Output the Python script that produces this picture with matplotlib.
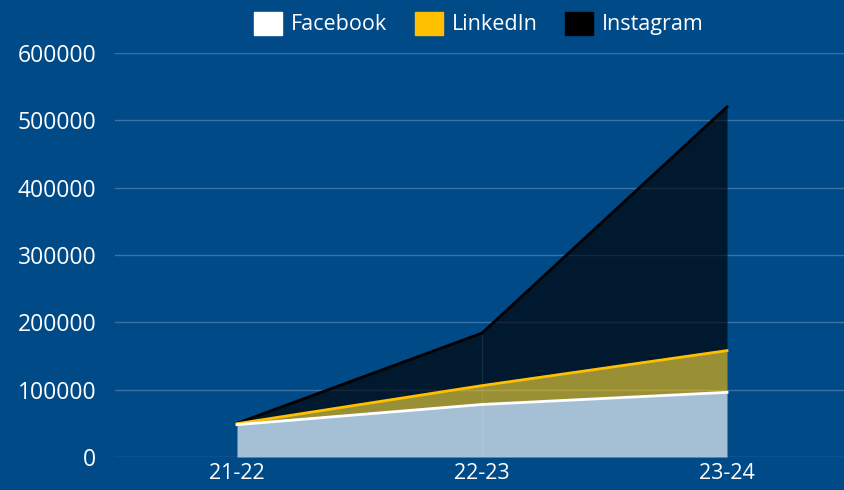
import numpy as np
import matplotlib.pyplot as plt
from matplotlib.patches import Patch

plt.rcParams['font.family'] = ['Open Sans', 'DejaVu Sans']

# datos
periodos = ['21-22', '22-23', '23-24']
facebook = [48000, 78000, 96000]
linkedin = [1500, 28000, 62000]
instagram = [500, 78000, 362000]
y_ticks = [0, 100000, 200000, 300000, 400000, 500000, 600000]

fondo = '#014a88'
rejilla = '#3d72a6'

fig = plt.figure(figsize=(8.44, 4.9), dpi=100, facecolor=fondo)
ax = fig.add_axes([114.5 / 844, 1 - 457 / 490, 735 / 844, 404 / 490])
ax.set_facecolor(fondo)

x = np.arange(len(periodos))
fb = np.array(facebook)
li = fb + np.array(linkedin)
ig = li + np.array(instagram)

# areas apiladas
ax.fill_between(x, 0, fb, color='white', alpha=0.65, linewidth=0, zorder=2)
ax.fill_between(x, fb, li, color='#ffc000', alpha=0.6, linewidth=0, zorder=2)
ax.fill_between(x, li, ig, color='black', alpha=0.65, linewidth=0, zorder=2)

ax.plot(x, ig, color='black', lw=2, zorder=4)
ax.plot(x, li, color='#ffc000', lw=2, zorder=4)
ax.plot(x, fb, color='white', lw=2, zorder=4)

# linea vertical tenue dentro del area
ax.vlines(x[1], 0, ig[1], color='white', alpha=0.08, lw=1, zorder=3)

ax.set_xlim(-0.5, 2.5)
ax.set_ylim(0, 600000)
ax.set_yticks(y_ticks)
ax.set_yticklabels([str(v) for v in y_ticks])
ax.set_xticks(x)
ax.set_xticklabels(periodos)
ax.grid(axis='y', color=rejilla, lw=1, zorder=1)
ax.set_axisbelow(True)
for s in ax.spines.values():
    s.set_visible(False)
ax.tick_params(colors='white', labelsize=15.5, length=0)
ax.tick_params(axis='y', pad=13)
ax.tick_params(axis='x', pad=4)
for t in ax.get_yticklabels():
    t.set_fontsize(16.5)

# leyenda
handles = [Patch(facecolor='white', edgecolor='white'),
           Patch(facecolor='#ffc000', edgecolor='#ffc000'),
           Patch(facecolor='black', edgecolor='black')]
leg = fig.legend(handles, ['Facebook', 'LinkedIn', 'Instagram'],
                 loc='center', bbox_to_anchor=(479 / 844, 1 - 23.5 / 490),
                 ncol=3, frameon=False, fontsize=15.5, labelcolor='white',
                 handlelength=1.3, handleheight=1.3, handletextpad=0.4,
                 columnspacing=1.3, borderpad=0, borderaxespad=0)

fig.savefig('out.png', dpi=100, facecolor=fondo)
